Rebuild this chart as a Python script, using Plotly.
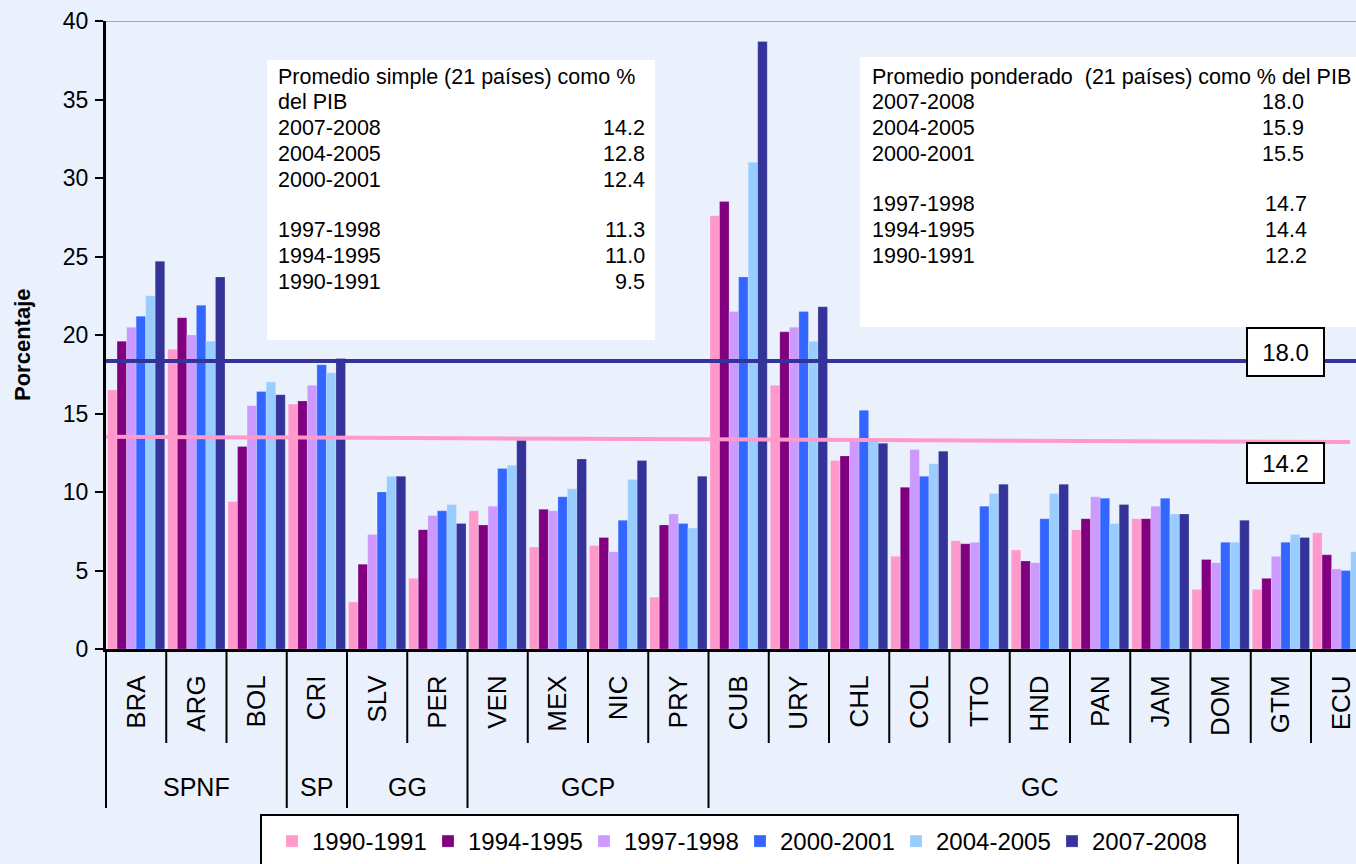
import plotly.graph_objects as go

# ---------------- data ----------------
countries = ["BRA", "ARG", "BOL", "CRI", "SLV", "PER", "VEN", "MEX", "NIC", "PRY",
             "CUB", "URY", "CHL", "COL", "TTO", "HND", "PAN", "JAM", "DOM", "GTM", "ECU"]

series_names = ["1990-1991", "1994-1995", "1997-1998", "2000-2001", "2004-2005", "2007-2008"]

v_1990_1991 = [16.5, 19.1, 9.4, 15.6, 3.0, 4.5, 8.8, 6.5, 6.6, 3.3, 27.6, 16.8, 12.0, 5.9, 6.9, 6.3, 7.6, 8.3, 3.8, 3.8, 7.4]
v_1994_1995 = [19.6, 21.1, 12.9, 15.8, 5.4, 7.6, 7.9, 8.9, 7.1, 7.9, 28.5, 20.2, 12.3, 10.3, 6.7, 5.6, 8.3, 8.3, 5.7, 4.5, 6.0]
v_1997_1998 = [20.5, 20.0, 15.5, 16.8, 7.3, 8.5, 9.1, 8.8, 6.2, 8.6, 21.5, 20.5, 13.3, 12.7, 6.8, 5.5, 9.7, 9.1, 5.5, 5.9, 5.1]
v_2000_2001 = [21.2, 21.9, 16.4, 18.1, 10.0, 8.8, 11.5, 9.7, 8.2, 8.0, 23.7, 21.5, 15.2, 11.0, 9.1, 8.3, 9.6, 9.6, 6.8, 6.8, 5.0]
v_2004_2005 = [22.5, 19.6, 17.0, 17.6, 11.0, 9.2, 11.7, 10.2, 10.8, 7.7, 31.0, 19.6, 13.3, 11.8, 9.9, 9.9, 8.0, 8.6, 6.8, 7.3, 6.2]
v_2007_2008 = [24.7, 23.7, 16.2, 18.5, 11.0, 8.0, 13.3, 12.1, 12.0, 11.0, 38.7, 21.8, 13.1, 12.6, 10.5, 10.5, 9.2, 8.6, 8.2, 7.1, 6.6]

groups = ["SPNF", "SP", "GG", "GCP", "GC"]
group_sizes = [3, 1, 2, 4, 11]

# reference lines as drawn (start value, end value)
line_weighted = [18.34, 18.34]
line_simple = [13.52, 13.18]
label_weighted = "18.0"
label_simple = "14.2"

simple_lines = ["Promedio simple (21 países) como %", "del PIB", "2007-2008", "2004-2005", "2000-2001",
                "1997-1998", "1994-1995", "1990-1991"]
simple_values = ["14.2", "12.8", "12.4", "11.3", "11.0", "9.5"]

weighted_lines = ["Promedio ponderado  (21 países) como % del PIB", "2007-2008", "2004-2005", "2000-2001",
                  "1997-1998", "1994-1995", "1990-1991"]
weighted_values = ["18.0", "15.9", "15.5", "14.7", "14.4", "12.2"]

colors = ["#FF99CC", "#800080", "#CC99FF", "#3366FF", "#99CCFF", "#333399"]
all_series = [v_1990_1991, v_1994_1995, v_1997_1998, v_2000_2001, v_2004_2005, v_2007_2008]

# ---------------- layout helpers ----------------
W, H = 1356, 864
ML, MR, MT, MB = 106, 0, 21, 215
PW, PH = W - ML - MR, H - MT - MB
CAT_W = 60.25
x_range = [-0.5, -0.5 + PW / CAT_W]


def px_x(px):
    return (px - ML) / PW


def px_y(py):
    return (H - MB - py) / PH


def cat_to_paper(x):
    return (x - x_range[0]) / (x_range[1] - x_range[0])


FONT = "Arial, Liberation Sans, sans-serif"
BG = "#EAF1FD"

fig = go.Figure()
xs = list(range(len(countries)))
for name, vals, col in zip(series_names, all_series, colors):
    fig.add_trace(go.Bar(x=xs, y=vals, name=name,
                         marker=dict(color=col, line=dict(width=0.6, color="rgba(255,255,255,0.35)"))))

shapes = []
# top border line at 40
shapes.append(dict(type="line", xref="paper", yref="y", x0=0, x1=1, y0=40, y1=40,
                   line=dict(color="#8C8C8C", width=1.5), layer="below"))
# white text boxes
shapes.append(dict(type="rect", xref="paper", yref="paper", x0=px_x(267), x1=px_x(655),
                   y0=px_y(340), y1=px_y(60), fillcolor="white", line=dict(width=0), layer="above"))
shapes.append(dict(type="rect", xref="paper", yref="paper", x0=px_x(860), x1=px_x(1360),
                   y0=px_y(327), y1=px_y(57), fillcolor="white", line=dict(width=0), layer="above"))
# reference lines
shapes.append(dict(type="line", xref="paper", yref="y", x0=0, x1=1,
                   y0=line_weighted[0], y1=line_weighted[1],
                   line=dict(color="#333399", width=4), layer="above"))
shapes.append(dict(type="line", xref="paper", yref="y", x0=0, x1=px_x(1350),
                   y0=line_simple[0], y1=line_simple[1],
                   line=dict(color="#FF99CC", width=4), layer="above"))
# legend frame
shapes.append(dict(type="rect", xref="paper", yref="paper", x0=px_x(261), x1=px_x(1238),
                   y0=px_y(875), y1=px_y(815), fillcolor="white",
                   line=dict(color="black", width=2), layer="above"))

# category separators
group_bounds = [0]
for s in group_sizes:
    group_bounds.append(group_bounds[-1] + s)
for i in range(len(countries)):
    b = i - 0.5
    is_group = i in group_bounds
    y_end = px_y(808) if is_group else px_y(743)
    shapes.append(dict(type="line", xref="paper", yref="paper",
                       x0=cat_to_paper(b), x1=cat_to_paper(b), y0=0, y1=y_end,
                       line=dict(color="black", width=2)))

annotations = []
# group labels
for g, a, b in zip(groups, group_bounds[:-1], group_bounds[1:]):
    center = (a + b - 1) / 2
    annotations.append(dict(x=center, xref="x", y=px_y(787), yref="paper", text=g,
                            xanchor="center", yanchor="middle",
                            showarrow=False, font=dict(size=25, color="black", family=FONT)))

# y title
annotations.append(dict(x=px_x(22), y=px_y(345), xref="paper", yref="paper", text="<b>Porcentaje</b>",
                        xanchor="center", yanchor="middle",
                        textangle=-90, showarrow=False, font=dict(size=22, color="black", family=FONT)))

TB = dict(size=21.5, color="black", family=FONT)


def text_line(txt, px, py, anchor="left"):
    annotations.append(dict(x=px_x(px), y=px_y(py), xref="paper", yref="paper", xanchor=anchor,
                            yanchor="middle", showarrow=False, font=TB, text=txt))


# text box 1
simple_y = [77, 102, 128, 154, 180, 230, 256, 282]
for txt, yy in zip(simple_lines, simple_y):
    text_line(txt, 276, yy)
for txt, yy in zip(simple_values, simple_y[2:]):
    text_line(txt, 647, yy, "right")

# text box 2
weighted_y = [77, 102, 128, 154, 204, 230, 256]
for txt, yy in zip(weighted_lines, weighted_y):
    text_line(txt, 870, yy)
for k, (txt, yy) in enumerate(zip(weighted_values, weighted_y[1:])):
    text_line(txt, 1306 if k < 3 else 1309, yy, "right")

# line labels
annotations.append(dict(x=px_x(1285.5), y=px_y(352), xref="paper", yref="paper", text=label_weighted,
                        xanchor="center", yanchor="middle",
                        showarrow=False, bgcolor="white", bordercolor="black", borderwidth=2, borderpad=1,
                        width=73, height=44, font=dict(size=24, color="black", family=FONT)))
annotations.append(dict(x=px_x(1285.5), y=px_y(463), xref="paper", yref="paper", text=label_simple,
                        xanchor="center", yanchor="middle",
                        showarrow=False, bgcolor="white", bordercolor="black", borderwidth=2, borderpad=1,
                        width=73, height=36, font=dict(size=24, color="black", family=FONT)))

fig.update_layout(
    width=W, height=H,
    margin=dict(l=ML, r=MR, t=MT, b=MB, pad=0, autoexpand=False),
    paper_bgcolor=BG, plot_bgcolor=BG,
    font=dict(family=FONT, color="black"),
    barmode="group", bargap=0.05, bargroupgap=0,
    showlegend=True,
    legend=dict(orientation="h", x=px_x(272), y=px_y(819), xanchor="left", yanchor="top",
                bgcolor="rgba(0,0,0,0)", borderwidth=0, entrywidth=111, entrywidthmode="pixels",
                font=dict(size=24, color="black", family=FONT), traceorder="normal"),
    xaxis=dict(range=x_range, tickmode="array", tickvals=xs, ticktext=countries, tickangle=-90,
               tickfont=dict(size=26, color="black", family=FONT), ticks="", showgrid=False,
               zeroline=False, showline=True, linecolor="black", linewidth=3,
               ticklabelstandoff=13),
    yaxis=dict(range=[0, 40], dtick=5, tick0=0, ticks="outside", ticklen=8, tickwidth=2,
               tickcolor="black", showgrid=False, zeroline=False, showline=True,
               linecolor="black", linewidth=3, tickfont=dict(size=23, color="black", family=FONT),
               ticklabelstandoff=2),
    shapes=shapes,
    annotations=annotations,
)

fig.write_html("out.html",
               config={"displayModeBar": False},
               post_script="document.body.style.margin='0';document.body.style.padding='0';"
                           "document.body.style.overflow='hidden';"
                           "document.body.style.background='" + BG + "';")
